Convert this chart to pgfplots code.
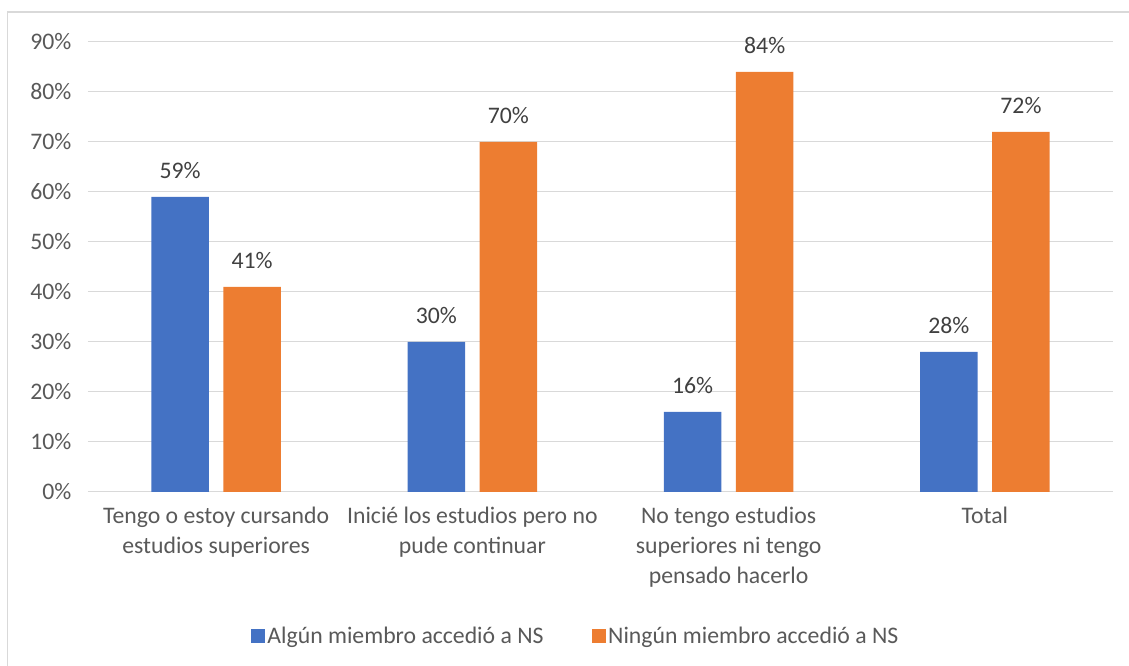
\documentclass[border=0pt]{standalone}
\usepackage{pgfplots}
\pgfplotsset{compat=1.18}
\usepackage{fontspec}
\setmainfont{Carlito}
\definecolor{serieA}{HTML}{4472C4}
\definecolor{serieB}{HTML}{ED7D31}
\definecolor{gridgray}{HTML}{D9D9D9}
\definecolor{textgray}{HTML}{595959}
\definecolor{labelgray}{HTML}{404040}

\begin{document}
\begin{tikzpicture}[x=0.75pt,y=0.75pt]
\useasboundingbox (0,0) rectangle (1129,666);
\draw[gridgray, line width=0.9pt] (7.5,0) -- (7.5,654) -- (1129,654);
\begin{axis}[
    at={(66pt,130.5pt)}, anchor=south west,
    scale only axis,
    width=768.75pt, height=337.5pt,
    ybar=11pt, bar width=43.1pt,
    xmin=-0.5, xmax=3.5, ymin=0, ymax=90,
    xtick=data,
    xticklabels={{Tengo o estoy cursando\\estudios superiores},
                 {Inicié los estudios pero no\\pude continuar},
                 {No tengo estudios\\superiores ni tengo\\pensado hacerlo},
                 {Total}},
    ytick={0,10,...,90},
    yticklabels={0\%,10\%,20\%,30\%,40\%,50\%,60\%,70\%,80\%,90\%},
    ymajorgrids,
    grid style={gridgray, line width=0.75pt},
    axis x line*=bottom,
    axis y line*=left,
    x axis line style={gridgray, line width=0.75pt, -},
    y axis line style={draw=none},
    major tick length=0pt,
    tick style={draw=none},
    /pgf/number format/assume math mode=true,
    xticklabel style={font=\fontsize{17.8}{22.5}\selectfont, color=textgray, align=center, anchor=north, yshift=-8pt},
    yticklabel style={font=\fontsize{17.8}{22}\selectfont, color=textgray, xshift=-9pt},
    nodes near coords={\pgfmathprintnumber{\pgfplotspointmeta}\%},
    nodes near coords style={font=\fontsize{17.8}{22}\selectfont, color=labelgray, anchor=base, inner sep=0pt, yshift=14pt},
    legend columns=2,
    legend style={at={(0.476,-0.32)}, anchor=center, draw=none,
        font=\fontsize{17.8}{22}\selectfont, text=textgray,
        nodes={inner xsep=2pt},
        /tikz/every even column/.append style={column sep=34pt}},
    legend image code/.code={\fill[#1] (0pt,-5.2pt) rectangle (10.5pt,5.2pt);},
]
\addplot[fill=serieA, draw=none] coordinates {(0,59) (1,30) (2,16) (3,28)};
\addplot[fill=serieB, draw=none] coordinates {(0,41) (1,70) (2,84) (3,72)};
\legend{Algún miembro accedió a NS, Ningún miembro accedió a NS}
\end{axis}
\end{tikzpicture}
\end{document}
